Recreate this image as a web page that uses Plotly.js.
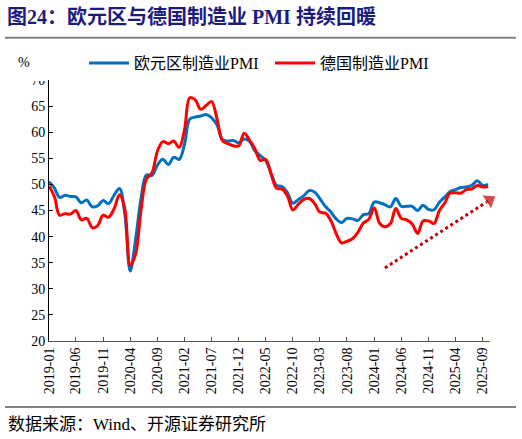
<!DOCTYPE html>
<html>
<head>
<meta charset="utf-8">
<script src="https://cdn.plot.ly/plotly-3.0.1.min.js"></script>
<style>
html,body{margin:0;padding:0;background:#fff;}
#chart{width:522px;height:439px;}
</style>
</head>
<body>
<div id="chart"></div>
<script>
// Months (categories)
const months = [
 '2019-01','2019-02','2019-03','2019-04','2019-05','2019-06','2019-07','2019-08','2019-09','2019-10','2019-11','2019-12',
 '2020-01','2020-02','2020-03','2020-04','2020-05','2020-06','2020-07','2020-08','2020-09','2020-10','2020-11','2020-12',
 '2021-01','2021-02','2021-03','2021-04','2021-05','2021-06','2021-07','2021-08','2021-09','2021-10','2021-11','2021-12',
 '2022-01','2022-02','2022-03','2022-04','2022-05','2022-06','2022-07','2022-08','2022-09','2022-10','2022-11','2022-12',
 '2023-01','2023-02','2023-03','2023-04','2023-05','2023-06','2023-07','2023-08','2023-09','2023-10','2023-11','2023-12',
 '2024-01','2024-02','2024-03','2024-04','2024-05','2024-06','2024-07','2024-08','2024-09','2024-10','2024-11','2024-12',
 '2025-01','2025-02','2025-03','2025-04','2025-05','2025-06','2025-07','2025-08','2025-09','2025-10'
];

// 欧元区制造业PMI
const euroPMI = [
 50.5,49.3,47.5,47.9,47.7,47.6,46.5,47.0,45.7,45.9,46.9,46.3,
 47.9,49.2,44.5,33.4,39.4,47.4,51.8,51.7,53.7,54.8,53.8,55.2,
 54.8,57.9,62.5,62.9,63.1,63.4,62.8,61.4,58.6,58.3,58.4,58.0,
 58.7,58.2,56.5,55.5,54.6,52.1,49.8,49.6,48.4,46.4,47.1,47.8,
 48.8,48.5,47.3,45.8,44.8,43.4,42.7,43.5,43.4,43.1,44.2,44.4,
 46.6,46.5,46.1,45.7,47.3,45.8,45.8,45.8,45.0,46.0,45.2,45.1,
 46.6,47.6,48.6,49.0,49.4,49.5,49.8,50.7,49.8,50.0
];

// 德国制造业PMI
const germanyPMI = [
 49.7,47.6,44.1,44.4,44.3,45.0,43.2,43.5,41.7,42.1,44.1,43.7,
 45.3,48.0,45.4,34.5,36.6,45.2,51.0,52.2,56.4,58.2,57.8,58.3,
 57.1,60.7,66.6,66.2,64.4,65.1,65.9,62.6,58.4,57.8,57.4,57.4,
 59.8,58.4,56.9,54.6,54.8,52.0,49.3,49.1,47.8,45.1,46.2,47.1,
 47.3,46.3,44.7,44.5,43.2,40.6,38.8,39.1,39.6,40.8,42.6,43.3,
 45.5,42.5,41.9,42.5,45.4,43.5,43.2,42.4,40.6,43.0,43.0,42.5,
 45.0,46.5,48.3,48.4,48.3,49.0,49.1,49.8,49.5,49.6
];

// Trend arrow (annotation) endpoints
const arrowX = ['2024-03-01','2025-10-10'];
const arrowY = [34.0, 47.0];

const seriesNames = ['欧元区制造业PMI','德国制造业PMI'];
const titleText = '图24：欧元区与德国制造业 PMI 持续回暖';
const sourceText = '数据来源：Wind、开源证券研究所';

const serif = '"Liberation Serif", "Times New Roman", "Noto Sans CJK SC", serif';

const traces = [
 {x: months, y: euroPMI, name: seriesNames[0], type:'scatter', mode:'lines',
  line:{color:'#0070C0', width:3, shape:'spline', smoothing:1}},
 {x: months, y: germanyPMI, name: seriesNames[1], type:'scatter', mode:'lines',
  line:{color:'#FF0000', width:3, shape:'spline', smoothing:1}},
 {x: arrowX, y: arrowY, type:'scatter', mode:'lines+markers', showlegend:false, hoverinfo:'skip',
  cliponaxis:false,
  line:{color:'#C00000', width:3, dash:'dot'},
  marker:{symbol:'triangle-up', size:[0,15], color:'#C00000', angleref:'previous'}}
];

const layout = {
 width:522, height:439,
 margin:{l:49, r:32, t:76, b:98},
 paper_bgcolor:'#fff', plot_bgcolor:'#fff',
 font:{family:serif, color:'#000', size:14},
 title:{text:'<b>'+titleText+'</b>', xref:'container', yref:'container', x:7/522, xanchor:'left',
        y:1-17/439, yanchor:'middle', font:{family:serif, size:20, color:'#1C1C80'}},
 showlegend:true,
 legend:{orientation:'h', xref:'container', yref:'container', x:84/522, xanchor:'left',
         y:1-63/439, yanchor:'middle', font:{family:serif, size:16, color:'#000'},
         bgcolor:'rgba(0,0,0,0)', itemwidth:40, tracegroupgap:0, entrywidth:131},
 xaxis:{type:'date', range:['2019-01-01','2025-10-12'], tick0:'2019-01-01', dtick:'M5',
        tickformat:'%Y-%m', tickangle:-90, ticks:'inside', ticklen:4, tickcolor:'#555',
        showline:true, linecolor:'#555', linewidth:1, showgrid:false, zeroline:false,
        tickfont:{family:serif, size:14, color:'#000'}},
 yaxis:{range:[20,70], dtick:5, ticks:'inside', ticklen:4, tickcolor:'#000',
        showline:true, linecolor:'#000', linewidth:1, showgrid:false, zeroline:false,
        tickfont:{family:serif, size:14, color:'#000'}},
 shapes:[
  {type:'line', xref:'paper', yref:'paper', x0:(5-49)/441, x1:(516-49)/441, y0:(341-33)/265, y1:(341-33)/265,
   line:{color:'#808080', width:2}},
  {type:'line', xref:'paper', yref:'paper', x0:(5-49)/441, x1:(516-49)/441, y0:(341-408)/265, y1:(341-408)/265,
   line:{color:'#000', width:1}},
  {type:'rect', xref:'paper', yref:'paper', layer:'above', x0:(18-49)/441, x1:(46-49)/441,
   y0:(341-77)/265, y1:(341-66)/265, fillcolor:'#fff', line:{width:0}}
 ],
 annotations:[
  {text:'%', xref:'paper', yref:'paper', x:(24-49)/441, y:(341-58)/265, xanchor:'center', yanchor:'middle',
   showarrow:false, font:{family:serif, size:14, color:'#000'}},
  {text:sourceText, xref:'paper', yref:'paper', x:(6-49)/441, y:(341-426)/265, xanchor:'left', yanchor:'middle',
   showarrow:false, font:{family:serif, size:17, color:'#000'}}
 ]
};

Plotly.newPlot('chart', traces, layout, {displayModeBar:false, staticPlot:true});
</script>
</body>
</html>
